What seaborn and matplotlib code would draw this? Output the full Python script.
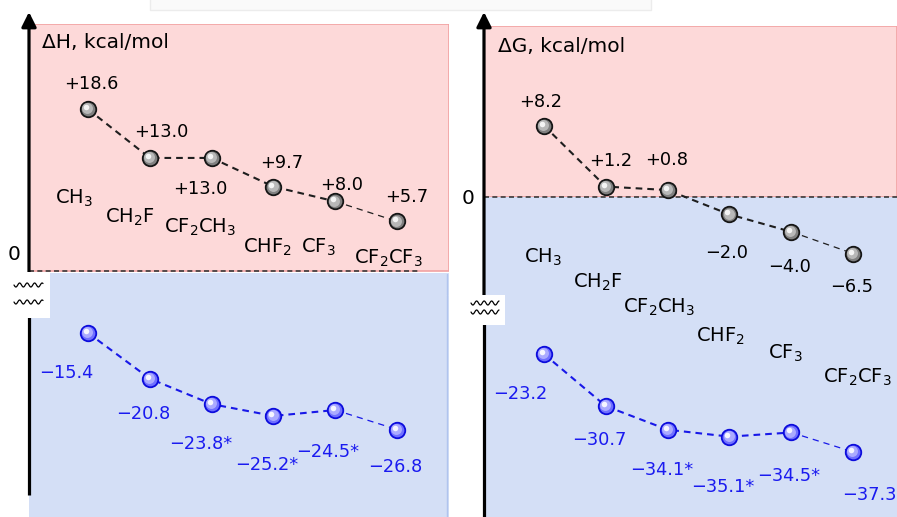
import numpy as np
import matplotlib
matplotlib.use("Agg")
import matplotlib.pyplot as plt
import seaborn as sns
from matplotlib.transforms import offset_copy
from matplotlib.patches import Rectangle
from matplotlib.lines import Line2D

# ---------------- data ----------------
groups = ["CH$_3$", "CH$_2$F", "CF$_2$CH$_3$", "CHF$_2$", "CF$_3$", "CF$_2$CF$_3$"]
dH_upper = [18.6, 13.0, 13.0, 9.7, 8.0, 5.7]
dH_lower = [-15.4, -20.8, -23.8, -25.2, -24.5, -26.8]
dG_upper = [8.2, 1.2, 0.8, -2.0, -4.0, -6.5]
dG_lower = [-23.2, -30.7, -34.1, -35.1, -34.5, -37.3]
starred_lower = [False, False, True, True, True, False]
title_H = "\u0394H, kcal/mol"
title_G = "\u0394G, kcal/mol"

# ---------------- style ----------------
sns.set_style("white")
plt.rcParams["font.family"] = ["DejaVu Sans"]
plt.rcParams["mathtext.default"] = "regular"
plt.rcParams["text.color"] = "black"

PINK, PINK_EDGE = "#fdd9d9", "#f2a2a2"
BLUE, BLUE_EDGE = "#d4dff6", "#b0c4ee"
BLK_LINE = "#1e1e1e"
BLUE_TXT = "#1a1af0"
LABEL_FS = 12.8
FORM_FS = 14
TITLE_FS = 14.5

W, H = 897, 517
fig = plt.figure(figsize=(W / 100, H / 100), dpi=100)
fig.patch.set_facecolor("white")


def px_axes(x0, y0, x1, y1):
    return fig.add_axes([x0 / W, 1 - y1 / H, (x1 - x0) / W, (y1 - y0) / H])


def fmt(v, star=False):
    s = f"{v:+.1f}".replace("-", "\u2212")
    return s + ("*" if star else "")


def draw_series(ax, vals, kind):
    idx = list(range(len(vals)))
    if kind == "black":
        lc, edge, base, mid, hi = BLK_LINE, "#151515", "#808080", "#b8b8b8", "#f4f4f4"
    else:
        lc, edge, base, mid, hi = "#1818e8", "#0c0cdc", "#7070ff", "#ababff", "#f6f6ff"
    sns.lineplot(x=idx[:5], y=vals[:5], ax=ax, color=lc, lw=1.5,
                 linestyle=(0, (3.2, 2.4)), legend=False, zorder=2)
    sns.lineplot(x=idx[4:], y=vals[4:], ax=ax, color=lc, lw=0.9,
                 linestyle=(0, (5, 4)), legend=False, zorder=2)
    sns.scatterplot(x=idx, y=vals, ax=ax, s=125, color=base, edgecolor=edge,
                    linewidth=1.3, legend=False, zorder=3)
    t1 = offset_copy(ax.transData, fig=fig, x=-0.8, y=0.8, units="dots")
    ax.scatter(idx, vals, s=62, color=mid, linewidths=0, zorder=4, transform=t1)
    t2 = offset_copy(ax.transData, fig=fig, x=-2.0, y=2.0, units="dots")
    ax.scatter(idx, vals, s=16, color=hi, linewidths=0, zorder=5, transform=t2)


def label_series(ax, vals, offsets, color, stars=None):
    for i, (v, (dx, dy)) in enumerate(zip(vals, offsets)):
        star = stars[i] if stars else False
        ax.annotate(fmt(v, star), (i, v), xytext=(dx, dy), textcoords="offset pixels",
                    ha="center", va="center", fontsize=LABEL_FS, color=color,
                    annotation_clip=False, zorder=6)


def label_groups(ax, offsets):
    for i, (g, (dx, dy)) in enumerate(zip(groups, offsets)):
        ax.annotate(g, (i, 0), xytext=(dx, dy), textcoords="offset pixels",
                    ha="center", va="center", fontsize=FORM_FS, color="black",
                    annotation_clip=False, zorder=6)


# ---------------- left panel (Delta H) ----------------
ax_lt = px_axes(29, 24, 449, 295)
ax_lb = px_axes(29, 295, 449, 517)
lt_ylim, lb_ylim = (-2.76, 28.4), (-37.13, -10.92)
l_xlim = (-0.955, 5.84)

ax_lt.axhspan(0, lt_ylim[1], fc=PINK, ec=PINK_EDGE, lw=1.2, zorder=0)
ax_lt.axhspan(lt_ylim[0], -0.25, fc=BLUE, ec="none", lw=0, zorder=0)
ax_lt.axhline(0, xmin=0.0, xmax=0.93, color="#3a3a3a", lw=1.2, ls=(0, (3, 2)), zorder=1)
ax_lb.axhspan(lb_ylim[0], lb_ylim[1], fc=BLUE, ec="none", lw=0, zorder=0)
zero_frac = (0 - lt_ylim[0]) / (lt_ylim[1] - lt_ylim[0])
ax_lt.axvline(l_xlim[1] - 0.03, ymin=0, ymax=zero_frac - 0.01, color=BLUE_EDGE, lw=1.0, zorder=1)
ax_lb.axvline(l_xlim[1] - 0.03, color=BLUE_EDGE, lw=1.0, zorder=1)

draw_series(ax_lt, dH_upper, "black")
draw_series(ax_lb, dH_lower, "blue")
label_series(ax_lt, dH_upper, [(3, 25), (11, 26), (-11, -31), (8, 24), (6, 16), (10, 24)], "black")
label_series(ax_lb, dH_lower, [(-22, -40), (-7, -35), (-11, -40), (-7, -49), (-8, -42), (-2, -37)],
             BLUE_TXT, starred_lower)
label_groups(ax_lt, [(-14, 73), (-20, 54), (-12, 44), (-6, 24), (-17, 24), (-9, 13)])

for ax, yl in ((ax_lt, lt_ylim), (ax_lb, lb_ylim)):
    ax.set_xlim(*l_xlim)
    ax.set_ylim(*yl)
    ax.set_axis_off()

ax_lt.annotate("", xy=(0, 1 + 12 / 271), xytext=(0, 0), xycoords="axes fraction",
               arrowprops=dict(arrowstyle="-|>", color="black", lw=2.3,
                               mutation_scale=22, shrinkA=0, shrinkB=0),
               annotation_clip=False, zorder=7)
ax_lb.plot([0, 0], [(517 - 495) / 222, 1], transform=ax_lb.transAxes, color="black",
           lw=2.3, clip_on=False, zorder=7, solid_capstyle="butt")

# ---------------- right panel (Delta G) ----------------
ax_rb = px_axes(484, 310, 897, 517)
ax_rt = px_axes(484, 26, 897, 310)
rt_ylim, rb_ylim = (-12.99, 19.66), (-46.68, -16.85)
r_xlim = (-0.97, 5.71)

ax_rt.axhspan(0, rt_ylim[1], fc=PINK, ec=PINK_EDGE, lw=1.2, zorder=0)
ax_rt.axhspan(rt_ylim[0], 0, fc=BLUE, ec=BLUE, lw=0, zorder=0)
ax_rt.axhline(0, color="#3a3a3a", lw=1.2, ls=(0, (3, 2)), zorder=1)
ax_rb.axhspan(rb_ylim[0], rb_ylim[1], fc=BLUE, ec=BLUE, lw=0, zorder=0)

draw_series(ax_rt, dG_upper, "black")
draw_series(ax_rb, dG_lower, "blue")
label_series(ax_rt, dG_upper, [(-3, 24), (5, 26), (-1, 30), (-3, -39), (-2, -35), (-1, -33)], "black")
label_series(ax_rb, dG_lower, [(-24, -40), (-6, -34), (-6, -40), (-7, -50), (-3, -44), (16, -43)],
             BLUE_TXT, starred_lower)
label_groups(ax_rt, [(-1, -60), (-8, -85), (-8, -110), (-9, -139), (-6, -156), (4, -180)])

for ax, yl in ((ax_rt, rt_ylim), (ax_rb, rb_ylim)):
    ax.set_xlim(*r_xlim)
    ax.set_ylim(*yl)
    ax.set_axis_off()
ax_rb.set_zorder(1)
ax_rt.set_zorder(2)

ax_rt.annotate("", xy=(0, 1 + 14 / 284), xytext=(0, 0), xycoords="axes fraction",
               arrowprops=dict(arrowstyle="-|>", color="black", lw=2.3,
                               mutation_scale=22, shrinkA=0, shrinkB=0),
               annotation_clip=False, zorder=7)
ax_rb.plot([0, 0], [0, 1], transform=ax_rb.transAxes, color="black",
           lw=2.3, clip_on=False, zorder=7, solid_capstyle="butt")

# ---------------- decorations ----------------
fig.text(42 / W, 1 - 43 / H, title_H, ha="left", va="center", fontsize=TITLE_FS, color="black")
fig.text(498 / W, 1 - 46 / H, title_G, ha="left", va="center", fontsize=TITLE_FS, color="black")
fig.text(14 / W, 1 - 255 / H, "0", ha="center", va="center", fontsize=TITLE_FS, color="black")
fig.text(468 / W, 1 - 198 / H, "0", ha="center", va="center", fontsize=TITLE_FS, color="black")

# faint box at top edge
fig.add_artist(Rectangle((150 / W, 1 - 10 / H), 501 / W, 12 / H, transform=fig.transFigure,
                         fc="#fafafa", ec="#ececec", lw=1, zorder=20))


def break_mark(x0, y0, x1, y1, wave_ys, wx0, wx1):
    fig.add_artist(Rectangle((x0 / W, 1 - y1 / H), (x1 - x0) / W, (y1 - y0) / H,
                             transform=fig.transFigure, fc="white", ec="none", zorder=30))
    xs = np.linspace(wx0, wx1, 80)
    for wy in wave_ys:
        ys = wy + 2.0 * np.sin(2 * np.pi * (xs - wx0) / 7.5)
        fig.add_artist(Line2D(xs / W, 1 - ys / H, transform=fig.transFigure,
                              color="black", lw=0.9, zorder=31))


break_mark(10, 272, 50, 318, [285, 302], 14, 43)
break_mark(468, 295, 505, 325, [303, 312], 471, 499)

fig.savefig("out.png", dpi=100)
